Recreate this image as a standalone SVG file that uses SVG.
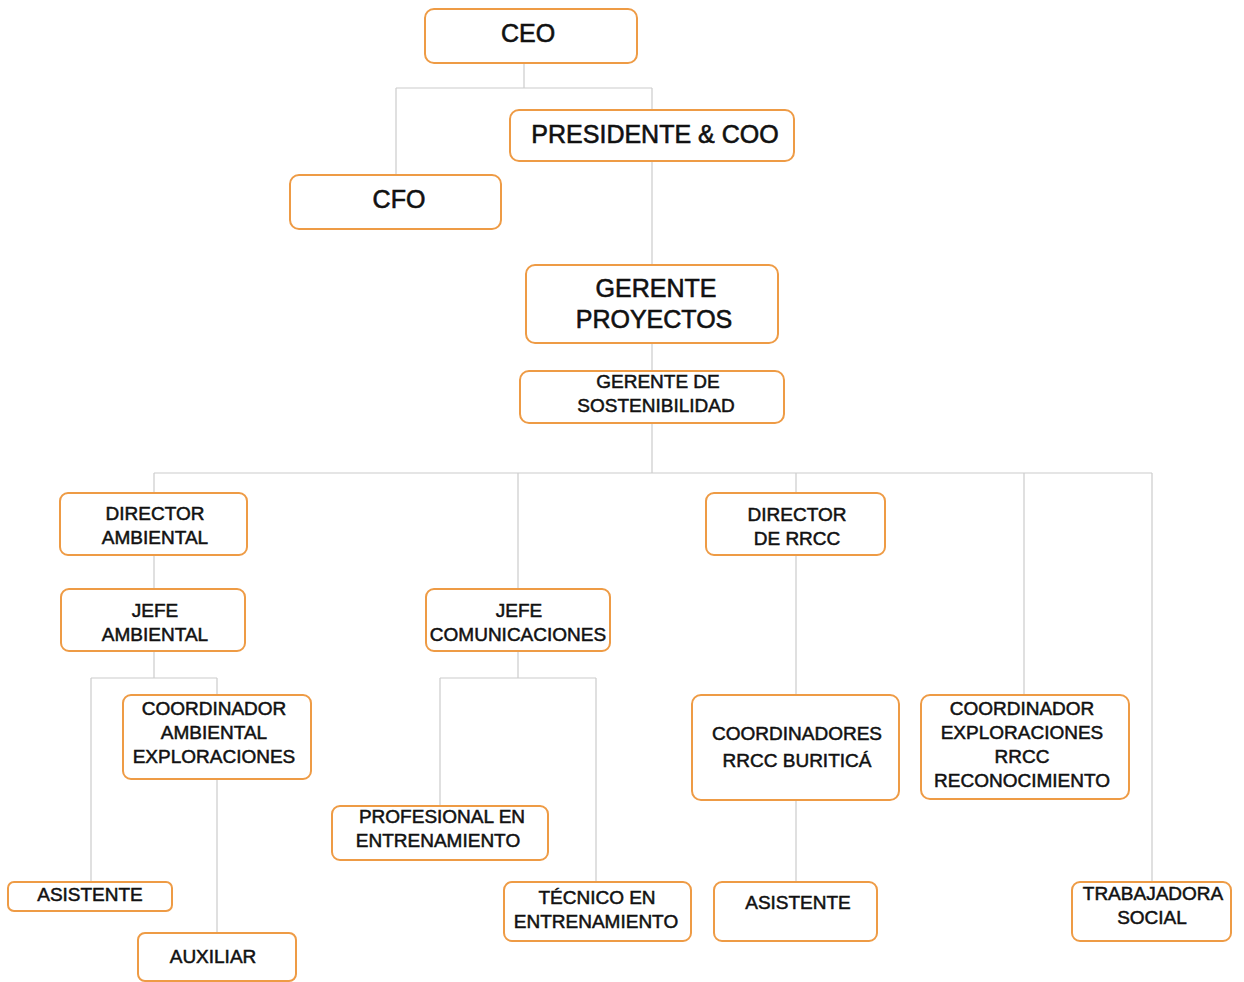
<svg xmlns="http://www.w3.org/2000/svg" width="1244" height="982" viewBox="0 0 1244 982">
<style>
.box{fill:#fff;stroke:#EE9B45;stroke-width:2}
.ln{fill:none;stroke:#cccccc;stroke-width:1.2}
text{font-family:"Liberation Sans",Arial,sans-serif;fill:#111;stroke:#111;text-anchor:middle}
.b{font-size:25px;stroke-width:0.6}
.s{font-size:19px;stroke-width:0.5}
</style>
<rect width="1244" height="982" fill="#fff"/>
<g id="connectors">
<path class="ln" d="M524 63V88M396 88H652M396 88V175M652 88V110M652 161V265M652 343V371M652 423V473M154 473H1152M154 473V493M518 473V589M796 473V493M1024 473V695M1152 473V882"/>
<path class="ln" d="M154 555V589M154 651V678M91 678H217M91 678V882M217 678V695M217 779V933"/>
<path class="ln" d="M518 651V678M440 678H596M440 678V806M596 678V882"/>
<path class="ln" d="M796 555V695M796 800V882"/>
</g>
<g id="ceo"><rect class="box" x="425" y="9" width="212" height="54" rx="9"/><text class="b" x="528" y="42">CEO</text></g>
<g id="presidente"><rect class="box" x="510" y="110" width="284" height="51" rx="9"/><text class="b" x="655" y="143">PRESIDENTE &amp; COO</text></g>
<g id="cfo"><rect class="box" x="290" y="175" width="211" height="54" rx="9"/><text class="b" x="399" y="208">CFO</text></g>
<g id="gerente-proyectos"><rect class="box" x="526" y="265" width="252" height="78" rx="9"/><text class="b" x="656" y="297">GERENTE</text><text class="b" x="654" y="328">PROYECTOS</text></g>
<g id="gerente-sostenibilidad"><rect class="box" x="520" y="371" width="264" height="52" rx="9"/><text class="s" x="658" y="388">GERENTE DE</text><text class="s" x="656" y="412">SOSTENIBILIDAD</text></g>
<g id="director-ambiental"><rect class="box" x="60" y="493" width="187" height="62" rx="8"/><text class="s" x="155" y="520">DIRECTOR</text><text class="s" x="155" y="544">AMBIENTAL</text></g>
<g id="jefe-ambiental"><rect class="box" x="61" y="589" width="184" height="62" rx="8"/><text class="s" x="155" y="617">JEFE</text><text class="s" x="155" y="641">AMBIENTAL</text></g>
<g id="coord-ambiental"><rect class="box" x="123" y="695" width="188" height="84" rx="8"/><text class="s" x="214" y="715">COORDINADOR</text><text class="s" x="214" y="739">AMBIENTAL</text><text class="s" x="214" y="763">EXPLORACIONES</text></g>
<g id="asistente-1"><rect class="box" x="8" y="882" width="164" height="29" rx="6"/><text class="s" x="90" y="901">ASISTENTE</text></g>
<g id="auxiliar"><rect class="box" x="138" y="933" width="158" height="48" rx="7"/><text class="s" x="213" y="963">AUXILIAR</text></g>
<g id="jefe-comunicaciones"><rect class="box" x="426" y="589" width="184" height="62" rx="8"/><text class="s" x="519" y="617">JEFE</text><text class="s" x="518" y="641">COMUNICACIONES</text></g>
<g id="profesional"><rect class="box" x="332" y="806" width="216" height="54" rx="8"/><text class="s" x="442" y="823">PROFESIONAL EN</text><text class="s" x="438" y="847">ENTRENAMIENTO</text></g>
<g id="tecnico"><rect class="box" x="504" y="882" width="187" height="59" rx="8"/><text class="s" x="597" y="904">TÉCNICO EN</text><text class="s" x="596" y="928">ENTRENAMIENTO</text></g>
<g id="director-rrcc"><rect class="box" x="706" y="493" width="179" height="62" rx="8"/><text class="s" x="797" y="521">DIRECTOR</text><text class="s" x="797" y="545">DE RRCC</text></g>
<g id="coordinadores-rrcc"><rect class="box" x="692" y="695" width="207" height="105" rx="9"/><text class="s" x="797" y="740">COORDINADORES</text><text class="s" x="797" y="767">RRCC BURITICÁ</text></g>
<g id="asistente-2"><rect class="box" x="714" y="882" width="163" height="59" rx="8"/><text class="s" x="798" y="909">ASISTENTE</text></g>
<g id="coord-exploraciones"><rect class="box" x="921" y="695" width="208" height="104" rx="9"/><text class="s" x="1022" y="715">COORDINADOR</text><text class="s" x="1022" y="739">EXPLORACIONES</text><text class="s" x="1022" y="763">RRCC</text><text class="s" x="1022" y="787">RECONOCIMIENTO</text></g>
<g id="trabajadora"><rect class="box" x="1072" y="882" width="159" height="59" rx="8"/><text class="s" x="1153" y="900">TRABAJADORA</text><text class="s" x="1152" y="924">SOCIAL</text></g>
</svg>
